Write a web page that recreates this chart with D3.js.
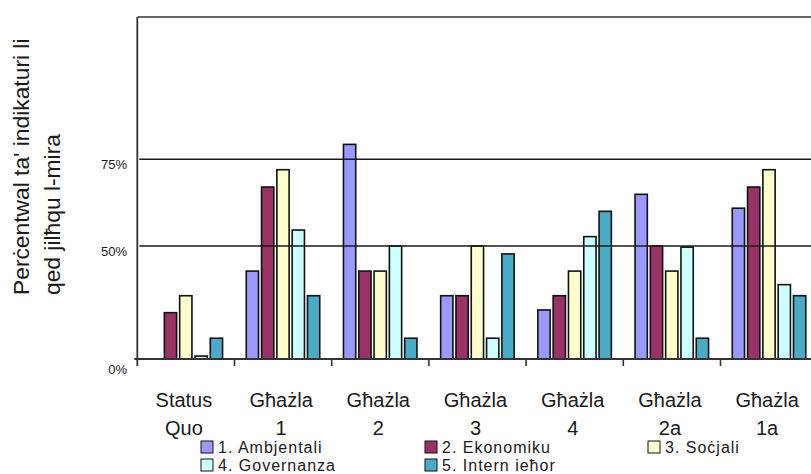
<!DOCTYPE html>
<html>
<head>
<meta charset="utf-8">
<script src="https://cdn.jsdelivr.net/npm/d3@7"></script>
<style>
  html, body { margin: 0; padding: 0; background: #ffffff; }
  svg { display: block; }
  text { font-family: "Liberation Sans", Arial, sans-serif; fill: #1a1a1a; }
</style>
</head>
<body>
<svg id="chart" width="811" height="474"></svg>
<script>
// ---- data ----
const categories = ["Status Quo", "Għażla 1", "Għażla 2", "Għażla 3", "Għażla 4", "Għażla 2a", "Għażla 1a"];
const seriesNames = ["1. Ambjentali", "2. Ekonomiku", "3. Soċjali", "4. Governanza", "5. Intern ieħor"];
const ambjentali = [0, 38.9, 79.3, 28.0, 21.7, 64.9, 60.9];
const ekonomiku  = [20.5, 67.0, 38.9, 28.0, 28.0, 50.0, 67.0];
const socjali    = [28.0, 72.0, 38.9, 50.0, 38.9, 38.9, 72.0];
const governanza = [1.3, 54.6, 50.0, 9.2, 52.7, 49.5, 32.9];
const internIehor = [9.2, 28.0, 9.2, 46.5, 60.0, 9.2, 28.0];
const seriesColors = ["#9999ff", "#993366", "#ffffcc", "#ccffff", "#4aabc6"];
const yTicks = [0, 50, 75];
const yTickLabels = ["0%", "50%", "75%"];
const yTitle = ["Perċentwal ta' indikaturi li", "qed jilħqu l-mira"];

const seriesValues = [ambjentali, ekonomiku, socjali, governanza, internIehor];

// ---- layout ----
const svg = d3.select("#chart");
const W = 811;
const plotLeft = 137.3, plotTop = 17, baseY = 359;

const x = d3.scaleBand().domain(categories).range([plotLeft, plotLeft + 7 * 97.2]).padding(0);
const xs = d3.scaleBand().domain(seriesNames).range([11, 86]).paddingInner(0.1).paddingOuter(0);
// the value axis of the reference is drawn piecewise (0%, 50%, 75% marks)
const y = d3.scaleLinear().domain(yTicks).range([baseY, 246, 159.3]);

// bars
const data = [];
categories.forEach((c, ci) => {
  seriesNames.forEach((s, si) => {
    data.push({ c, s, si, v: seriesValues[si][ci] });
  });
});

svg.append("g").selectAll("rect")
  .data(data.filter(d => d.v > 0))
  .join("rect")
  .attr("x", d => x(d.c) + xs(d.s) + 0.75)
  .attr("width", xs.bandwidth() - 1.5)
  .attr("y", d => y(d.v))
  .attr("height", d => baseY - y(d.v))
  .attr("fill", d => seriesColors[d.si])
  .attr("stroke", "#111")
  .attr("stroke-width", 1.6);

// gridlines (drawn over the bars, as in the reference)
svg.append("g").selectAll("line")
  .data(yTicks.filter(t => t > 0))
  .join("line")
  .attr("x1", plotLeft + 2).attr("x2", W)
  .attr("y1", d => y(d)).attr("y2", d => y(d))
  .attr("stroke", "#1a1a1a").attr("stroke-width", 1.6);

// frame: top line, left axis, baseline
const axisColor = "#333";
svg.append("line").attr("x1", plotLeft).attr("x2", W).attr("y1", plotTop).attr("y2", plotTop)
  .attr("stroke", axisColor).attr("stroke-width", 1.6);
svg.append("line").attr("x1", plotLeft).attr("x2", plotLeft).attr("y1", plotTop).attr("y2", baseY + 7)
  .attr("stroke", axisColor).attr("stroke-width", 1.8);
svg.append("line").attr("x1", plotLeft - 3).attr("x2", W).attr("y1", baseY).attr("y2", baseY)
  .attr("stroke", axisColor).attr("stroke-width", 1.8);

// category tick marks
svg.append("g").selectAll("line")
  .data(categories.slice(1))
  .join("line")
  .attr("x1", d => x(d)).attr("x2", d => x(d))
  .attr("y1", baseY).attr("y2", baseY + 7)
  .attr("stroke", axisColor).attr("stroke-width", 1.6);

// y tick labels
svg.append("g").selectAll("text")
  .data(yTicks)
  .join("text")
  .attr("x", 127)
  .attr("y", d => y(d) + (d === 0 ? 15 : 10))
  .attr("text-anchor", "end")
  .attr("font-size", 13)
  .text((d, i) => yTickLabels[i]);

// category labels (two lines)
const catG = svg.append("g");
categories.forEach(c => {
  const k = c.lastIndexOf(" ");
  const lines = [c.slice(0, k), c.slice(k + 1)];
  const cx = x(c) + x.bandwidth() / 2 - 2;
  lines.forEach((ln, li) => {
    catG.append("text")
      .attr("x", cx)
      .attr("y", 407 + li * 28)
      .attr("text-anchor", "middle")
      .attr("font-size", 20)
      .text(ln);
  });
});

// y axis title (rotated, two lines)
yTitle.forEach((t, i) => {
  svg.append("text")
    .attr("transform", `translate(${29 + i * 31},295) rotate(-90)`)
    .attr("text-anchor", "start")
    .attr("font-size", 22.8)
    .text(t);
});

// legend
const legX = [201, 425, 648];
const legG = svg.append("g");
seriesNames.forEach((s, i) => {
  const col = i % 3, row = Math.floor(i / 3);
  const lx = legX[col], baseline = 452.5 + row * 18;
  legG.append("rect")
    .attr("x", lx).attr("y", baseline - 11.5)
    .attr("width", 12).attr("height", 12)
    .attr("fill", seriesColors[i])
    .attr("stroke", "#111").attr("stroke-width", 1);
  legG.append("text")
    .attr("x", lx + 17).attr("y", baseline)
    .attr("font-size", 16)
    .attr("letter-spacing", 1)
    .text(s);
});
</script>
</body>
</html>
